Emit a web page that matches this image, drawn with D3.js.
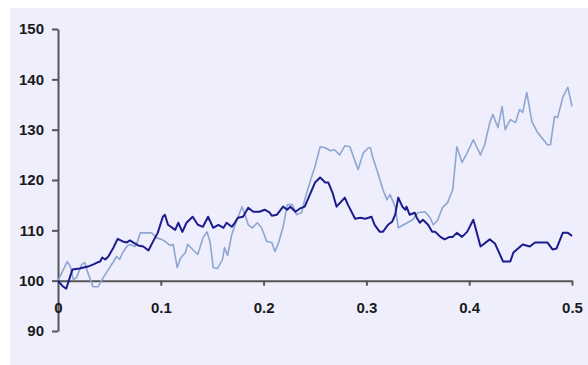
<!DOCTYPE html>
<html lang="en">
<head>
    <meta charset="UTF-8">
    <script src="https://d3js.org/d3.v7.min.js"></script>
    <style>
        body {
            margin: 0;
            background: white;
            font-family: Arial, "Liberation Sans", sans-serif;
        }
        .tick text {
            font-size: 15px;
            font-weight: bold;
            fill: #1a1a1a;
        }
    </style>
</head>
<body>
    <div id="chart"></div>

    <script>
        // Tick values
        const xTicks = [0, 0.1, 0.2, 0.3, 0.4, 0.5];
        const yTicks = [90, 100, 110, 120, 130, 140, 150];

        // Dark series: [time, value]
        const darkSeries = [
            [0, 100], [0.004, 99.0], [0.008, 98.4], [0.014, 102.2], [0.021, 102.4], [0.029, 102.8],
            [0.034, 103.2], [0.038, 103.6], [0.041, 103.8], [0.043, 104.6], [0.046, 104.2], [0.049, 104.8],
            [0.054, 106.6], [0.058, 108.3], [0.063, 107.8], [0.067, 107.6], [0.070, 108.0], [0.073, 107.6],
            [0.078, 107.0], [0.083, 106.8], [0.088, 106.0], [0.092, 107.6], [0.097, 109.5], [0.102, 112.7],
            [0.104, 113.1], [0.107, 111.1], [0.114, 110.1], [0.117, 111.5], [0.121, 109.7], [0.125, 111.5],
            [0.131, 112.7], [0.136, 111.1], [0.141, 110.7], [0.146, 112.7], [0.151, 110.5], [0.156, 111.1],
            [0.161, 110.5], [0.164, 111.5], [0.169, 110.7], [0.172, 111.5], [0.175, 112.5], [0.180, 112.7],
            [0.185, 114.5], [0.190, 113.7], [0.196, 113.7], [0.201, 114.1], [0.206, 113.5], [0.208, 112.9],
            [0.213, 113.1], [0.219, 114.7], [0.223, 114.1], [0.226, 114.7], [0.231, 113.7], [0.235, 114.3],
            [0.240, 114.7], [0.245, 117.1], [0.250, 119.5], [0.255, 120.5], [0.260, 119.5], [0.263, 119.5],
            [0.267, 117.5], [0.271, 114.7], [0.279, 116.5], [0.282, 115.1], [0.289, 112.3], [0.294, 112.5],
            [0.299, 112.3], [0.305, 112.7], [0.308, 111.1], [0.313, 109.7], [0.316, 109.7], [0.321, 111.1],
            [0.325, 111.7], [0.328, 113.1], [0.331, 116.5], [0.335, 114.7], [0.338, 114.1], [0.339, 114.7],
            [0.342, 113.1], [0.347, 113.5], [0.349, 112.5], [0.352, 111.5], [0.355, 112.1], [0.360, 111.1],
            [0.364, 109.7], [0.367, 109.7], [0.372, 108.7], [0.376, 108.2], [0.381, 108.7], [0.384, 108.7],
            [0.388, 109.5], [0.393, 108.7], [0.398, 109.7], [0.404, 112.1], [0.411, 106.8], [0.420, 108.2],
            [0.425, 107.4], [0.433, 103.8], [0.440, 103.8], [0.443, 105.6], [0.452, 107.2], [0.459, 106.8],
            [0.464, 107.6], [0.476, 107.6], [0.481, 106.2], [0.485, 106.4], [0.491, 109.5], [0.496, 109.5],
            [0.500, 108.9]
        ];

        // Light series: [time, value]
        const lightSeries = [
            [0, 100], [0.009, 103.8], [0.012, 102.8], [0.015, 100.2], [0.018, 100.6], [0.023, 103.2],
            [0.026, 103.6], [0.029, 101.6], [0.034, 98.8], [0.039, 98.8], [0.044, 100.6], [0.049, 102.2],
            [0.054, 103.8], [0.057, 104.8], [0.060, 104.2], [0.063, 105.6], [0.067, 106.8], [0.070, 107.2],
            [0.075, 106.8], [0.077, 107.6], [0.080, 109.5], [0.085, 109.5], [0.091, 109.5], [0.096, 108.5],
            [0.101, 108.2], [0.104, 107.8], [0.109, 107.0], [0.112, 107.2], [0.116, 102.6], [0.119, 104.4],
            [0.124, 105.6], [0.126, 107.2], [0.131, 106.2], [0.136, 105.2], [0.141, 108.5], [0.145, 109.7],
            [0.148, 107.6], [0.151, 102.6], [0.155, 102.4], [0.160, 104.2], [0.162, 106.6], [0.165, 105.0],
            [0.169, 109.1], [0.174, 112.1], [0.179, 114.7], [0.182, 113.1], [0.185, 111.1], [0.189, 110.5],
            [0.194, 111.5], [0.198, 110.5], [0.203, 107.8], [0.208, 107.6], [0.211, 105.8], [0.214, 107.2],
            [0.219, 110.7], [0.223, 115.1], [0.228, 115.1], [0.232, 113.1], [0.237, 113.5], [0.240, 116.1],
            [0.245, 119.5], [0.250, 122.7], [0.255, 126.6], [0.260, 126.4], [0.265, 125.8], [0.269, 126.0],
            [0.274, 125.0], [0.279, 126.8], [0.284, 126.6], [0.289, 123.7], [0.292, 122.1], [0.297, 125.4],
            [0.302, 126.4], [0.304, 126.4], [0.306, 124.6], [0.311, 121.5], [0.316, 118.1], [0.320, 116.1],
            [0.323, 117.1], [0.328, 114.7], [0.331, 110.5], [0.338, 111.3], [0.345, 112.1], [0.350, 113.5],
            [0.357, 113.7], [0.362, 112.5], [0.365, 111.1], [0.369, 111.9], [0.374, 114.5], [0.379, 115.5],
            [0.384, 118.1], [0.388, 126.6], [0.393, 123.5], [0.398, 125.4], [0.404, 128.0], [0.411, 125.0],
            [0.415, 127.0], [0.420, 131.4], [0.423, 133.0], [0.428, 130.4], [0.432, 134.6], [0.435, 130.0],
            [0.440, 132.0], [0.445, 131.4], [0.449, 134.0], [0.452, 133.4], [0.456, 137.4], [0.461, 131.6],
            [0.466, 129.6], [0.476, 127.0], [0.479, 127.0], [0.483, 132.6], [0.486, 132.4], [0.491, 136.4],
            [0.496, 138.4], [0.500, 134.6]
        ];

        const width = 588, height = 365;

        const svg = d3.select("#chart").append("svg")
            .attr("width", width)
            .attr("height", height);

        // Plot background panel
        svg.append("rect")
            .attr("x", 10).attr("y", 8)
            .attr("width", width - 10).attr("height", height - 8)
            .attr("fill", "#eeeefc");

        const x = d3.scaleLinear().domain([0, 0.5]).range([58, 572]);
        const y = d3.scaleLinear().domain([90, 150]).range([331, 29]);

        // Y axis (left ticks)
        const yAxis = svg.append("g")
            .attr("transform", `translate(${x(0)},0)`)
            .call(d3.axisLeft(y).tickValues(yTicks).tickSize(6).tickPadding(8).tickSizeOuter(0));

        // X axis crosses at 100
        const xAxis = svg.append("g")
            .attr("transform", `translate(0,${y(100)})`)
            .call(d3.axisBottom(x).tickValues(xTicks).tickSize(5).tickPadding(17)
                .tickFormat(d => d === 0 ? "0" : d3.format(".1f")(d)).tickSizeOuter(0));

        [yAxis, xAxis].forEach(g => {
            g.select(".domain").attr("stroke", "#555").attr("stroke-width", 2);
            g.selectAll(".tick line").attr("stroke", "#555").attr("stroke-width", 2);
        });
        xAxis.selectAll(".tick").filter(d => d === 0).select("line").remove();

        const line = d3.line()
            .x(d => x(d[0]))
            .y(d => y(d[1]));

        svg.append("path")
            .datum(lightSeries)
            .attr("fill", "none")
            .attr("stroke", "#8ea6d0")
            .attr("stroke-width", 1.6)
            .attr("stroke-linejoin", "round")
            .attr("d", line);

        svg.append("path")
            .datum(darkSeries)
            .attr("fill", "none")
            .attr("stroke", "#1c1c8e")
            .attr("stroke-width", 2)
            .attr("stroke-linejoin", "round")
            .attr("d", line);
    </script>
</body>
</html>
